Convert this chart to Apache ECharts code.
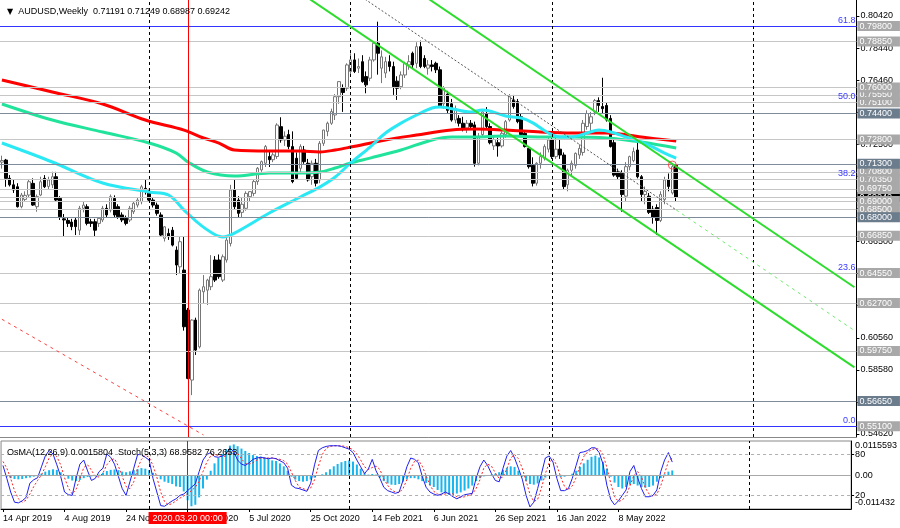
<!DOCTYPE html>
<html><head><meta charset="utf-8">
<script src="https://cdn.jsdelivr.net/npm/echarts@6/dist/echarts.min.js"></script>
<style>html,body{margin:0;padding:0;background:#fff}#c{width:900px;height:528px}</style>
</head><body><div id="c"></div>
<script>
const FONT = 'Liberation Sans';
// ---- categories (weekly bars) ----
const N_CAT = 221;
const monthNames = ['Jan','Feb','Mar','Apr','May','Jun','Jul','Aug','Sep','Oct','Nov','Dec'];
const categories = [];
for (let k = 0; k < N_CAT; k++) {
  const d = new Date(Date.UTC(2019, 3, 14 + 7 * k));
  categories.push(d.getUTCDate() + ' ' + monthNames[d.getUTCMonth()] + ' ' + d.getUTCFullYear());
}
const labelEvery = 16, lastLabelIdx = 160;

// ---- OHLC ----
const opens = [0.7140,0.7153,0.7040,0.7000,0.6988,0.6865,0.6910,0.6937,0.7009,0.6865,
0.6937,0.7040,0.6990,0.7000,0.7050,0.6916,0.6790,0.6780,0.6770,0.6783,
0.6720,0.6855,0.6865,0.6772,0.6772,0.6762,0.6783,0.6855,0.6844,0.6916,
0.6865,0.6814,0.6793,0.6783,0.6834,0.6875,0.6896,0.6978,0.6958,0.6906,
0.6875,0.6814,0.6670,0.6700,0.6720,0.6597,0.6494,0.6474,0.6227,0.5795,
0.6165,0.6000,0.6340,0.6350,0.6371,0.6536,0.6536,0.6412,0.6536,0.6638,
0.6968,0.6906,0.6830,0.6855,0.6927,0.6947,0.7020,0.7092,0.7133,0.7175,
0.7155,0.7175,0.7359,0.7277,0.7310,0.7236,0.7164,0.7102,0.7215,0.7133,
0.7050,0.7133,0.7030,0.7256,0.7330,0.7380,0.7431,0.7544,0.7600,0.7596,
0.7700,0.7771,0.7720,0.7760,0.7668,0.7658,0.7771,0.7874,0.7720,0.7690,
0.7760,0.7730,0.7640,0.7606,0.7678,0.7740,0.7812,0.7750,0.7853,0.7780,
0.7720,0.7740,0.7750,0.7710,0.7500,0.7560,0.7500,0.7400,0.7410,0.7380,
0.7350,0.7380,0.7370,0.7133,0.7310,0.7440,0.7360,0.7240,0.7260,0.7240,
0.7310,0.7400,0.7524,0.7514,0.7420,0.7318,0.7225,0.7120,0.7010,0.7133,
0.7164,0.7220,0.7277,0.7174,0.7220,0.7184,0.7000,0.7090,0.7120,0.7184,
0.7200,0.7360,0.7380,0.7450,0.7520,0.7483,0.7490,0.7410,0.7260,0.7080,
0.7071,0.6930,0.7112,0.7150,0.7215,0.7050,0.6940,0.6930,0.6850,0.6860,
0.6780,0.6910,0.7030,0.6950,0.71191];
const highs = [0.7180,0.7160,0.7060,0.7030,0.7010,0.6950,0.6960,0.7030,0.7040,0.6940,
0.7050,0.7060,0.7050,0.7081,0.7080,0.6930,0.6820,0.6800,0.6790,0.6800,
0.6870,0.6896,0.6880,0.6790,0.6790,0.6800,0.6870,0.6880,0.6940,0.6935,
0.6880,0.6830,0.6810,0.6870,0.6900,0.6920,0.7000,0.7034,0.6975,0.6920,
0.6890,0.6830,0.6745,0.6730,0.6740,0.6620,0.6680,0.6680,0.6240,0.6170,
0.6180,0.6360,0.6443,0.6420,0.6566,0.6560,0.6570,0.6570,0.6690,0.7000,
0.7030,0.6930,0.6920,0.6960,0.6960,0.7030,0.7110,0.7150,0.7246,0.7205,
0.7200,0.7380,0.7417,0.7330,0.7340,0.7330,0.7200,0.7250,0.7240,0.7160,
0.7150,0.7160,0.7270,0.7340,0.7390,0.7470,0.7560,0.7640,0.7620,0.7750,
0.7812,0.7812,0.7780,0.7800,0.7700,0.7790,0.7880,0.8007,0.7830,0.7790,
0.7800,0.7760,0.7670,0.7700,0.7760,0.7800,0.7822,0.7880,0.7890,0.7800,
0.7770,0.7770,0.7760,0.7730,0.7610,0.7580,0.7530,0.7490,0.7430,0.7420,
0.7400,0.7400,0.7390,0.7320,0.7460,0.7480,0.7380,0.7300,0.7290,0.7330,
0.7400,0.7560,0.7555,0.7530,0.7440,0.7330,0.7240,0.7170,0.7140,0.7200,
0.7250,0.7290,0.7300,0.7290,0.7280,0.7200,0.7100,0.7150,0.7200,0.7250,
0.7400,0.7460,0.7450,0.7530,0.7540,0.7661,0.7510,0.7430,0.7280,0.7100,
0.7090,0.7140,0.7180,0.7230,0.7280,0.7060,0.6990,0.6950,0.6870,0.6880,
0.6960,0.7050,0.7070,0.7130,0.71249];
const lows = [0.7100,0.6988,0.6990,0.6950,0.6860,0.6855,0.6900,0.6920,0.6870,0.6834,
0.6930,0.6980,0.6970,0.6980,0.6900,0.6783,0.6680,0.6740,0.6720,0.6690,
0.6690,0.6830,0.6750,0.6740,0.6680,0.6740,0.6770,0.6800,0.6830,0.6800,
0.6790,0.6770,0.6750,0.6770,0.6820,0.6860,0.6880,0.6940,0.6900,0.6860,
0.6810,0.6680,0.6650,0.6660,0.6620,0.6443,0.6453,0.6100,0.5800,0.5702,
0.5950,0.5990,0.6268,0.6258,0.6350,0.6400,0.6420,0.6400,0.6520,0.6620,
0.6850,0.6800,0.6800,0.6840,0.6900,0.6930,0.7000,0.7080,0.7110,0.7110,
0.7140,0.7160,0.7260,0.7240,0.7220,0.7010,0.7030,0.7080,0.7130,0.7020,
0.7000,0.6990,0.7010,0.7240,0.7300,0.7370,0.7400,0.7500,0.7450,0.7580,
0.7680,0.7690,0.7690,0.7630,0.7565,0.7640,0.7760,0.7680,0.7628,0.7660,
0.7700,0.7555,0.7524,0.7590,0.7660,0.7710,0.7720,0.7720,0.7720,0.7720,
0.7680,0.7700,0.7690,0.7480,0.7470,0.7440,0.7390,0.7380,0.7360,0.7330,
0.7320,0.7340,0.7112,0.7120,0.7300,0.7340,0.7250,0.7215,0.7174,0.7230,
0.7290,0.7390,0.7470,0.7380,0.7300,0.7230,0.7100,0.6990,0.6995,0.7100,
0.7150,0.7200,0.7160,0.7160,0.7160,0.6970,0.6960,0.7060,0.7100,0.7160,
0.7180,0.7340,0.7330,0.7430,0.7450,0.7440,0.7390,0.7230,0.7050,0.7030,
0.6834,0.6900,0.7090,0.7140,0.7040,0.6900,0.6880,0.6820,0.6760,0.6690,
0.6770,0.6880,0.6960,0.6940,0.68987];
const closes = [0.7150,0.7040,0.7000,0.6968,0.6865,0.6937,0.6935,0.7019,0.6875,0.6927,
0.7019,0.6988,0.7030,0.7050,0.6906,0.6803,0.6783,0.6762,0.6742,0.6742,
0.6855,0.6875,0.6762,0.6762,0.6720,0.6793,0.6855,0.6814,0.6927,0.6814,
0.6803,0.6783,0.6762,0.6855,0.6886,0.6906,0.6988,0.6958,0.6906,0.6875,
0.6824,0.6690,0.6741,0.6680,0.6628,0.6505,0.6649,0.6124,0.5805,0.6165,
0.5980,0.6350,0.6371,0.6412,0.6433,0.6412,0.6433,0.6556,0.6659,0.6968,
0.6865,0.6824,0.6880,0.6947,0.6958,0.7020,0.7102,0.7143,0.7236,0.7155,
0.7185,0.7369,0.7277,0.7300,0.7236,0.7020,0.7040,0.7236,0.7143,0.7030,
0.7133,0.7010,0.7256,0.7338,0.7380,0.7452,0.7544,0.7637,0.7570,0.7740,
0.7771,0.7700,0.7730,0.7637,0.7617,0.7771,0.7874,0.7812,0.7790,0.7760,
0.7730,0.7606,0.7596,0.7678,0.7750,0.7760,0.7740,0.7853,0.7730,0.7730,
0.7740,0.7730,0.7710,0.7483,0.7600,0.7460,0.7400,0.7470,0.7380,0.7350,
0.7380,0.7360,0.7133,0.7300,0.7450,0.7360,0.7260,0.7280,0.7240,0.7318,
0.7390,0.7544,0.7483,0.7390,0.7310,0.7236,0.7112,0.7010,0.7133,0.7174,
0.7236,0.7277,0.7174,0.7220,0.7184,0.6989,0.7090,0.7133,0.7194,0.7225,
0.7380,0.7440,0.7420,0.7520,0.7490,0.7470,0.7400,0.7236,0.7060,0.7050,
0.6940,0.7112,0.7174,0.7205,0.7050,0.6940,0.6960,0.6830,0.6800,0.6780,
0.6940,0.7030,0.6990,0.7112,0.69242];

// ---- moving averages (read at sample bars) ----
const cyanIdx = [0,13,26,38,43,47,52,57,60,69,77,82,86,90,95,99,103,107,111,113,121,124,130,134,137,141,144,147,151,154,158,161,165,168,171,174];
const cyanVal = [0.7258,0.7141,0.7011,0.6956,0.6937,0.6844,0.6739,0.6678,0.6702,0.6826,0.6925,0.6986,0.7048,0.7135,0.7233,0.7320,0.7381,0.7431,0.7474,0.7480,0.7449,0.7462,0.7425,0.7412,0.7382,0.7320,0.7295,0.7295,0.7320,0.7338,0.7320,0.7295,0.7264,0.7233,0.7196,0.7165];
const mintIdx = [0,13,26,38,45,48,53,60,69,77,82,86,90,95,103,111,116,122,130,139,147,156,165,174];
const mintVal = [0.7499,0.7400,0.7326,0.7258,0.7196,0.7141,0.7079,0.7054,0.7073,0.7073,0.7079,0.7104,0.7135,0.7165,0.7215,0.7277,0.7295,0.7295,0.7301,0.7295,0.7295,0.7289,0.7264,0.7227];
const redIdx = [0,13,26,37,47,52,56,60,69,77,82,86,90,99,107,116,122,130,139,147,156,165,174];
const redVal = [0.7647,0.7573,0.7499,0.7400,0.7338,0.7289,0.7258,0.7215,0.7209,0.7209,0.7203,0.7215,0.7233,0.7277,0.7307,0.7338,0.7344,0.7338,0.7326,0.7320,0.7320,0.7295,0.7270];

// ---- channel lines (bar index, price) ----
const chanUpper = [[108,0.8182],[220,0.6368]];
const chanLower = [[76,0.8202],[220,0.5873]];
const chanMidPast = [[92,0.8173],[174,0.6845]];
const chanMidFuture = [[174,0.6845],[220,0.6100]];
const redTrend = [[0,0.6170],[52,0.5456]];
const alertPoint = [[173,0.7122]];

// ---- horizontal levels ----
const levelPrices = [0.69242,0.7980,0.7885,0.7600,0.7555,0.7510,0.7440,0.7280,0.7130,0.7080,0.7035,0.6975,0.6900,0.6850,0.6800,0.6685,0.6455,0.6270,0.5975,0.5665,0.5510];
const levelKinds  = ['k','b','g','g','g','g','d','g','d','g','g','g','g','g','d','g','g','g','g','d','b'];
const fibRatios = [0, 23.6, 38.2, 50.0, 61.8];
const fibBase = 0.5510, fib618 = 0.7980;
const tickVals = [0.80420,0.78440,0.76460,0.74480,0.72500,0.70520,0.68540,0.66500,0.64520,0.62540,0.60560,0.58580,0.56600,0.54620];
const yMainMin = 0.54435, yMainMax = 0.81408;
const yearSeparators = [38, 90, 142, 194];
const markedBar = 48, markedText = '2020.03.20 00:00';

// ---- indicators ----
const stochMain = [64,45,25,10,9,12,17,38,43,46,
62,78,86,81,65,48,25,21,20,45,
66,72,56,42,45,55,60,81,76,66,
48,30,20,40,60,80,80,76,72,45,
25,5,4,8,12,15,20,22,27,32,
37,55,72,80,83,77,76,78,81,90,
84,72,66,64,68,73,75,76,75,74,
75,74,71,68,60,35,31,30,28,26,
38,65,86,90,92,93,93,93,92,90,
88,83,72,62,52,59,73,56,45,32,
27,25,23,25,42,62,75,73,68,48,
32,25,22,20,22,25,22,18,15,18,
21,22,23,45,62,72,64,52,42,40,
60,78,86,75,60,44,20,3,10,30,
52,75,78,69,45,27,27,30,45,64,
83,84,86,90,90,83,66,35,14,6,
12,20,28,55,64,46,30,18,18,20,
28,55,72,83,69];
const stochSignal = [70,60,45,27,15,10,13,22,33,42,
50,62,75,82,77,65,46,31,22,29,
44,61,65,57,48,47,53,65,72,74,
63,48,33,30,40,60,73,79,76,64,
47,25,11,6,8,12,16,19,23,27,
32,41,55,69,78,80,79,77,78,83,
85,82,74,67,66,68,72,75,75,75,
75,74,73,71,66,54,42,32,30,28,
31,43,63,80,89,92,93,93,93,92,
90,87,81,72,62,58,61,63,58,44,
35,28,25,24,30,43,60,70,72,63,
49,35,26,22,21,22,23,22,18,17,
18,20,22,30,43,60,66,63,53,45,
47,59,75,80,74,60,41,22,11,14,
31,52,68,74,64,47,33,28,34,46,
64,77,84,87,89,88,80,61,38,18,
11,13,20,34,49,55,47,31,22,19,
22,34,52,70,75];
const osma = [-0.0003,-0.0005,-0.0010,-0.0013,-0.0014,-0.0013,-0.0010,-0.0008,-0.0005,-0.0002,
0.0005,0.0012,0.0017,0.0020,0.0018,0.0010,-0.0003,-0.0012,-0.0018,-0.0020,
-0.0016,-0.0010,-0.0006,-0.0004,-0.0003,0.0002,0.0008,0.0014,0.0018,0.0019,
0.0017,0.0012,0.0010,0.0013,0.0017,0.0020,0.0024,0.0022,0.0017,0.0008,
-0.0003,-0.0014,-0.0022,-0.0026,-0.0030,-0.0038,-0.0040,-0.0055,-0.0085,-0.0105,
-0.0100,-0.0075,-0.0045,-0.0015,0.0015,0.0040,0.0058,0.0072,0.0088,0.0100,
0.0104,0.0098,0.0090,0.0082,0.0075,0.0068,0.0065,0.0063,0.0060,0.0055,
0.0050,0.0048,0.0040,0.0030,0.0015,-0.0005,-0.0015,-0.0020,-0.0022,-0.0020,
-0.0015,-0.0008,-0.0002,0.0003,0.0010,0.0020,0.0030,0.0038,0.0044,0.0048,
0.0050,0.0046,0.0036,0.0022,0.0008,0.0002,0.0004,0.0002,-0.0008,-0.0020,
-0.0028,-0.0032,-0.0033,-0.0030,-0.0022,-0.0014,-0.0010,-0.0010,-0.0014,-0.0020,
-0.0026,-0.0034,-0.0040,-0.0050,-0.0058,-0.0062,-0.0066,-0.0065,-0.0062,-0.0058,
-0.0052,-0.0045,-0.0035,-0.0020,-0.0010,-0.0004,-0.0002,0.0002,0.0005,0.0010,
0.0018,0.0025,0.0030,0.0028,0.0015,-0.0005,-0.0020,-0.0030,-0.0032,-0.0028,
-0.0018,-0.0008,-0.0003,-0.0002,-0.0004,-0.0006,-0.0005,-0.0002,0.0005,0.0015,
0.0028,0.0040,0.0052,0.0062,0.0066,0.0060,0.0045,0.0022,-0.0005,-0.0025,
-0.0040,-0.0045,-0.0040,-0.0032,-0.0030,-0.0035,-0.0040,-0.0042,-0.0040,-0.0035,
-0.0022,-0.0010,0.0003,0.0012,0.0016];
const osmaMin = -0.011432, osmaMax = 0.0115593;
const osmaLabelTexts = ['0.0115593', '0.00', '-0.011432'];
const stochLevels = [80, 20];
const subTitle = 'OsMA(12,26,9) 0.0015804  Stoch(5,3,3) 68.9582 76.2653';

// ---------- build ----------
const candleData = opens.map((o, k) => [o, closes[k], lows[k], highs[k]]);
const pairs = (idx, val) => idx.map((x, k) => [x, val[k]]);
const last = opens.length - 1;
const header = 'AUDUSD,Weekly  ' + [opens[last], highs[last], lows[last], closes[last]].map(v => v.toFixed(5)).join(' ');

const lineCol = {g:'#C6C6C6', d:'#7E8B9A', b:'#3434FF', k:'#C6C6C6'};
const boxCol = {g:'#A8A8A8', d:'#6B7C8D', b:'#A8A8A8', k:'#000000'};
const kindRank = {k:0, g:1, b:1, d:2};
// draw order: bid first, then regular levels from low to high, dark levels last
const order = levelPrices.map((p, k) => k).sort((a, b) =>
  (kindRank[levelKinds[a]] - kindRank[levelKinds[b]]) || (levelPrices[a] - levelPrices[b]));
const levelMarks = order.map(k => ({
  yAxis: levelPrices[k],
  lineStyle: {color: lineCol[levelKinds[k]], width: 1, type: 'solid'},
  label: {show: true, position: 'end', formatter: levelPrices[k].toFixed(5), color: '#fff',
    backgroundColor: boxCol[levelKinds[k]], padding: [1, 8, 0, 2], fontSize: 9,
    fontFamily: FONT, distance: 1}
}));
const fibMarks = fibRatios.map(r => ({
  yAxis: fibBase + (fib618 - fibBase) * r / 61.8,
  lineStyle: {color: (r === 0 || r === 61.8) ? '#3434FF' : '#C6C6C6', width: 1, type: 'solid'},
  label: {show: true, position: 'insideEndTop', formatter: r.toFixed(1), color: '#3A3AFF',
    fontSize: 9, fontFamily: FONT, distance: 1}
}));
const vMain = yearSeparators.map(i => ({xAxis: categories[i]}));
vMain.push({xAxis: categories[markedBar], lineStyle: {color: '#FF0000', type: 'solid', width: 1}});
const vSub = yearSeparators.map(i => ({xAxis: categories[i]}));

const showLbl = (idx) => idx % labelEvery === 0 && idx <= lastLabelIdx;
const osmaRange = osmaMax - osmaMin;
const osmaLabelVals = [osmaMax - osmaRange * 0.06, 0, osmaMin + osmaRange * 0.09];

const chart = echarts.init(document.getElementById('c'));
chart.setOption({
  animation: false,
  backgroundColor: '#fff',
  textStyle: {fontFamily: FONT},
  title: [
    {text: '{t|▼}  ' + header, left: 2, top: 2,
     textStyle: {fontSize: 9, fontFamily: FONT, color: '#000', fontWeight: 'normal',
       rich: {t: {fontSize: 8, fontFamily: 'DejaVu Sans', color: '#000'}}}},
    {text: subTitle, left: 2, top: 443,
     textStyle: {fontSize: 9, fontFamily: FONT, color: '#000', fontWeight: 'normal'}}
  ],
  grid: [
    {left: -3.6, top: 0, width: 860, height: 437, show: false},
    {left: -3.6, top: 441, width: 860, height: 68, show: true, borderColor: '#888', borderWidth: 1, backgroundColor: '#fff'}
  ],
  xAxis: [
    {type: 'category', gridIndex: 0, data: categories, boundaryGap: true,
     axisLine: {show: true, lineStyle: {color: '#888', width: 1}}, axisTick: {show: false}, axisLabel: {show: false}, splitLine: {show: false}},
    {type: 'category', gridIndex: 1, data: categories, boundaryGap: true,
     axisLine: {show: true, lineStyle: {color: '#000', width: 1}},
     axisTick: {show: true, interval: showLbl, alignWithLabel: true, length: 3, lineStyle: {color: '#000'}},
     axisLabel: {show: true, interval: showLbl, align: 'left', fontSize: 9, fontFamily: FONT, color: '#000', margin: 5},
     splitLine: {show: false}}
  ],
  yAxis: [
    {type: 'value', gridIndex: 0, position: 'right', min: yMainMin, max: yMainMax, scale: true,
     axisLine: {show: true, lineStyle: {color: '#000'}},
     axisTick: {show: true, length: 3, customValues: tickVals, lineStyle: {color: '#000'}},
     axisLabel: {show: true, customValues: tickVals, formatter: v => v.toFixed(5), fontSize: 9, fontFamily: FONT, color: '#000', margin: 4},
     splitLine: {show: false}},
    {type: 'value', gridIndex: 1, position: 'right', min: 0, max: 100,
     axisLine: {show: true, lineStyle: {color: '#000'}},
     axisTick: {show: true, length: 3, customValues: stochLevels, lineStyle: {color: '#000'}},
     axisLabel: {show: true, customValues: stochLevels, fontSize: 9, fontFamily: FONT, color: '#000', margin: 4},
     splitLine: {show: false}},
    {type: 'value', gridIndex: 1, position: 'right', min: osmaMin, max: osmaMax,
     axisLine: {show: false}, axisTick: {show: false},
     axisLabel: {show: true, customValues: osmaLabelVals,
       formatter: v => v > 0.001 ? osmaLabelTexts[0] : (v < -0.001 ? osmaLabelTexts[2] : osmaLabelTexts[1]),
       fontSize: 9, fontFamily: FONT, color: '#000', margin: 4},
     splitLine: {show: false}}
  ],
  series: [
    {type: 'line', name: 'levels', xAxisIndex: 0, yAxisIndex: 0, data: [], z: 1, silent: true,
     markLine: {symbol: 'none', silent: true, animation: false, precision: 6, data: levelMarks}},
    {type: 'line', name: 'fib', xAxisIndex: 0, yAxisIndex: 0, data: [], z: 1, silent: true,
     markLine: {symbol: 'none', silent: true, animation: false, precision: 6, data: fibMarks}},
    {type: 'line', name: 'vmain', xAxisIndex: 0, yAxisIndex: 0, data: [], z: 1, silent: true,
     markLine: {symbol: 'none', silent: true, animation: false, label: {show: false},
       lineStyle: {color: '#000', type: [3, 3], width: 1}, data: vMain}},
    {type: 'candlestick', name: 'AUDUSD', xAxisIndex: 0, yAxisIndex: 0, data: candleData, barWidth: 3, z: 3,
     itemStyle: {color: '#FFFFFF', color0: '#000000', borderColor: '#777777', borderColor0: '#000000', borderWidth: 1}},
    {type: 'line', name: 'MA red', data: pairs(redIdx, redVal), smooth: 0.35, symbol: 'none', z: 4,
     lineStyle: {color: '#FF0000', width: 3}},
    {type: 'line', name: 'MA mint', data: pairs(mintIdx, mintVal), smooth: 0.35, symbol: 'none', z: 4,
     lineStyle: {color: '#22E39B', width: 3}},
    {type: 'line', name: 'MA cyan', data: pairs(cyanIdx, cyanVal), smooth: 0.35, symbol: 'none', z: 4,
     lineStyle: {color: '#2AE8F4', width: 3}},
    {type: 'line', name: 'chanU', data: chanUpper, symbol: 'none', z: 5, lineStyle: {color: '#2EDC2E', width: 2}},
    {type: 'line', name: 'chanL', data: chanLower, symbol: 'none', z: 5, lineStyle: {color: '#2EDC2E', width: 2}},
    {type: 'line', name: 'chanM', data: chanMidPast, symbol: 'none', z: 5, lineStyle: {color: '#555', width: 1, type: [2, 2]}},
    {type: 'line', name: 'chanMF', data: chanMidFuture, symbol: 'none', z: 5, lineStyle: {color: '#6EEA6E', width: 1, type: [3, 4]}},
    {type: 'line', name: 'redTrend', data: redTrend, symbol: 'none', z: 5, lineStyle: {color: '#FF4040', width: 1, type: [3, 4]}},
    {type: 'scatter', name: 'alert', data: alertPoint, symbol: 'circle', symbolSize: 8, z: 6,
     itemStyle: {color: 'rgba(0,0,0,0)', borderColor: '#FF3030', borderWidth: 1}},
    // sub panel
    {type: 'line', name: 'vsub', xAxisIndex: 1, yAxisIndex: 1, data: [], z: 1, silent: true,
     markLine: {symbol: 'none', silent: true, animation: false, label: {show: false},
       lineStyle: {color: '#000', type: [3, 3], width: 1}, data: vSub}},
    {type: 'line', name: 'vsubRed', xAxisIndex: 1, yAxisIndex: 1, data: [], z: 8, silent: true,
     markLine: {symbol: 'none', silent: true, animation: false,
       lineStyle: {color: '#FF0000', type: 'solid', width: 1},
       label: {show: true, position: 'start', formatter: markedText, color: '#fff', backgroundColor: '#FF0000',
         padding: [2, 4, 1, 4], fontSize: 9, fontFamily: FONT, distance: 3},
       data: [[{coord: [categories[markedBar], 0]}, {coord: [categories[markedBar], 100]}]]}},
    {type: 'bar', name: 'OsMA', xAxisIndex: 1, yAxisIndex: 2, data: osma, barWidth: 2, z: 2,
     itemStyle: {color: '#17B6EE'},
     markLine: {symbol: 'none', silent: true, animation: false, label: {show: false}, precision: 6,
       lineStyle: {color: '#A8A8A8', type: 'solid', width: 1}, data: [{yAxis: 0}]}},
    {type: 'line', name: 'Stoch', xAxisIndex: 1, yAxisIndex: 1, data: stochMain, symbol: 'none', z: 4,
     lineStyle: {color: '#2020F0', width: 1},
     markLine: {symbol: 'none', silent: true, animation: false, label: {show: false},
       lineStyle: {color: '#B0B0B0', type: [3, 3], width: 1}, data: stochLevels.map(v => ({yAxis: v}))}},
    {type: 'line', name: 'Signal', xAxisIndex: 1, yAxisIndex: 1, data: stochSignal, symbol: 'none', z: 3,
     lineStyle: {color: '#FF2020', width: 1, type: [2, 2]}}
  ]
});
</script>
</body></html>
